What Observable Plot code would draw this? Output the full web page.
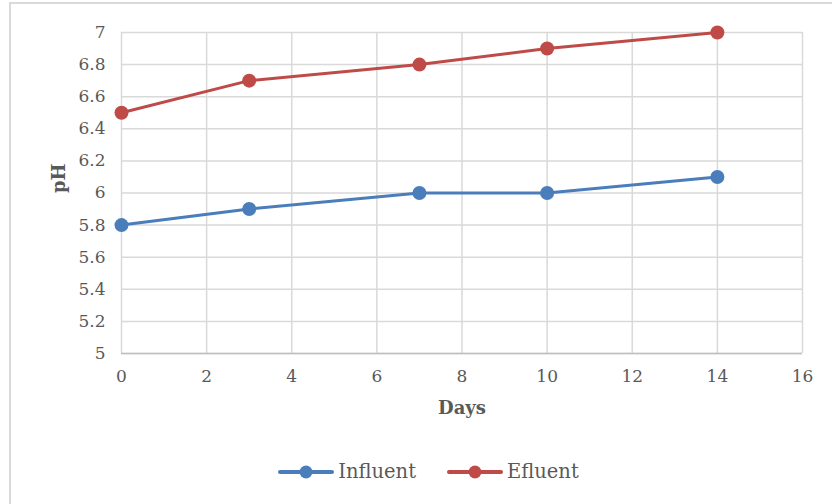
<!DOCTYPE html>
<html>
<head>
<meta charset="utf-8">
<script src="https://cdn.jsdelivr.net/npm/d3@7"></script>
<script src="https://cdn.jsdelivr.net/npm/@observablehq/plot@0.6"></script>
<style>
  html, body { margin: 0; padding: 0; background: #fff; }
  #wrap { position: relative; width: 832px; height: 504px; overflow: hidden; }
  #frame { position: absolute; left: 9px; top: 2px; width: 840px; height: 520px;
           border: 2px solid #d9d9d9; box-sizing: border-box; }
  #chart { position: absolute; left: 0; top: 0; }
  #legend { position: absolute; left: 0; top: 460px; width: 832px; display: flex;
            justify-content: center; gap: 30px; font-family: "DejaVu Serif", serif;
            font-size: 19.5px; color: #595959; padding-left: 24px; box-sizing: border-box; }
  .item { display: flex; align-items: center; gap: 3px; }
</style>
</head>
<body>
<div id="wrap">
  <div id="frame"></div>
  <div id="chart"></div>
  <div id="legend"></div>
</div>
<script>
const days = [0, 3, 7, 10, 14];
const influent = [5.8, 5.9, 6.0, 6.0, 6.1];
const efluent = [6.5, 6.7, 6.8, 6.9, 7.0];
const seriesNames = ["Influent", "Efluent"];
const seriesColors = ["#4a7ebb", "#be4b48"];
const xTicks = [0, 2, 4, 6, 8, 10, 12, 14, 16];
const yTicks = [5, 5.2, 5.4, 5.6, 5.8, 6, 6.2, 6.4, 6.6, 6.8, 7];

const data = [];
days.forEach((d, i) => data.push({day: d, ph: influent[i], series: seriesNames[0]}));
days.forEach((d, i) => data.push({day: d, ph: efluent[i], series: seriesNames[1]}));

const font = "DejaVu Serif, serif";
const plot = Plot.plot({
  width: 832,
  height: 440,
  marginLeft: 121,
  marginRight: 30,
  marginTop: 32,
  marginBottom: 87,
  style: {fontFamily: font, fontSize: "17px", color: "#595959", background: "transparent"},
  x: {domain: [0, 16]},
  y: {domain: [5, 7]},
  color: {domain: seriesNames, range: seriesColors},
  marks: [
    Plot.gridX(xTicks, {stroke: "#d9d9d9", strokeOpacity: 1, strokeWidth: 1.5}),
    Plot.gridY(yTicks, {stroke: "#d9d9d9", strokeOpacity: 1, strokeWidth: 1.5}),
    Plot.ruleY([5], {stroke: "#bfbfbf", strokeWidth: 1.5}),
    Plot.axisX(xTicks, {tickSize: 0, tickPadding: 16, label: null, fontSize: 17, fill: "#595959"}),
    Plot.axisY(yTicks, {tickSize: 0, tickPadding: 16, label: null, fontSize: 17, fill: "#595959",
                        tickFormat: d => String(+d.toFixed(1))}),
    Plot.line(data, {x: "day", y: "ph", z: "series", stroke: "series", strokeWidth: 3}),
    Plot.dot(data, {x: "day", y: "ph", fill: "series", r: 7}),
    Plot.text(["Days"], {frameAnchor: "bottom", dy: 60, fontWeight: "bold", fontSize: 18, fill: "#595959"}),
    Plot.text(["pH"], {frameAnchor: "left", dx: -62, rotate: -90, fontWeight: "bold", fontSize: 18, fill: "#595959"})
  ]
});
document.getElementById("chart").appendChild(plot);

const legend = document.getElementById("legend");
seriesNames.forEach((name, i) => {
  const item = document.createElement("div");
  item.className = "item";
  item.innerHTML = `<svg width="58" height="16"><line x1="3" y1="8" x2="55" y2="8" stroke="${seriesColors[i]}" stroke-width="4" stroke-linecap="round"/><circle cx="29" cy="8" r="6.5" fill="${seriesColors[i]}"/></svg><span>${name}</span>`;
  legend.appendChild(item);
});
</script>
</body>
</html>
